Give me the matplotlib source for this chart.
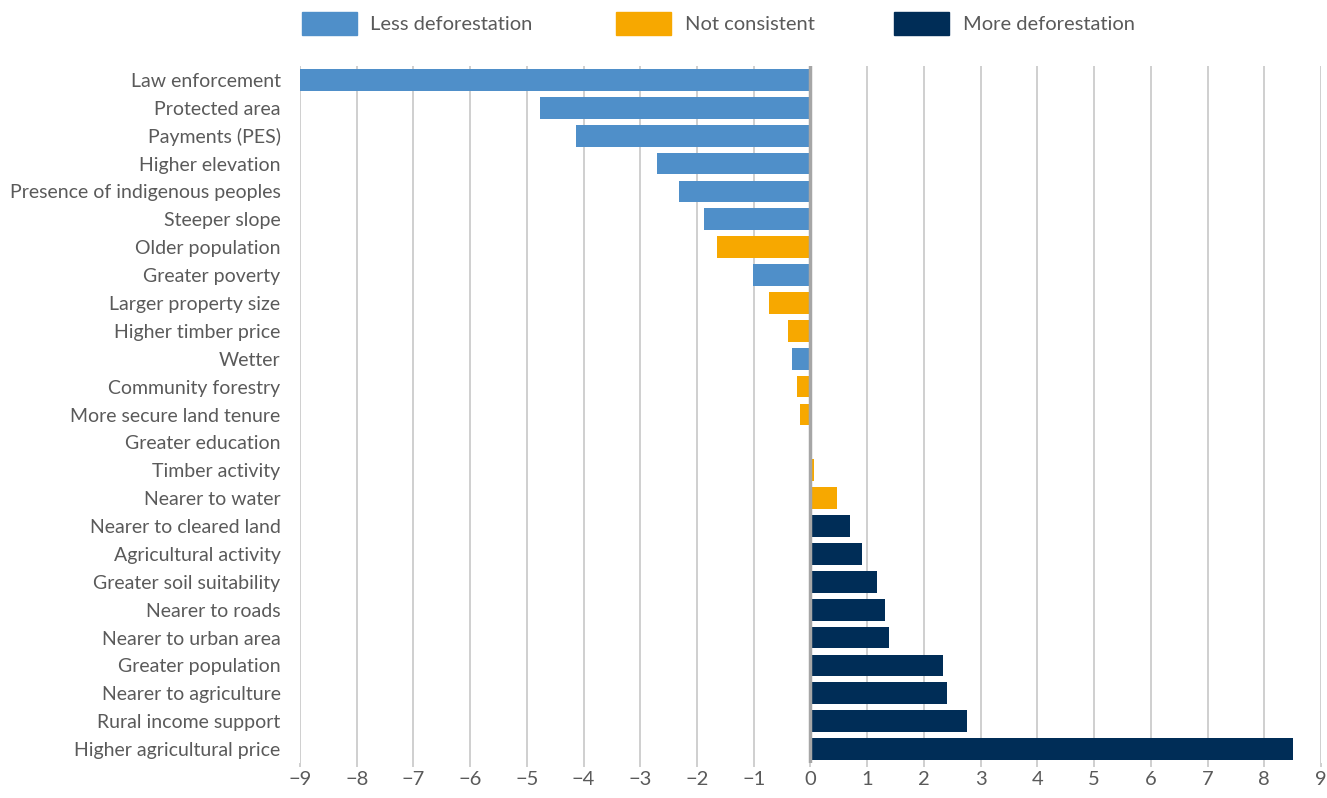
import matplotlib.pyplot as plt
from matplotlib.patches import Rectangle

factors = [
    "Law enforcement", "Protected area", "Payments (PES)", "Higher elevation",
    "Presence of indigenous peoples", "Steeper slope", "Older population",
    "Greater poverty", "Larger property size", "Higher timber price", "Wetter",
    "Community forestry", "More secure land tenure", "Greater education",
    "Timber activity", "Nearer to water", "Nearer to cleared land",
    "Agricultural activity", "Greater soil suitability", "Nearer to roads",
    "Nearer to urban area", "Greater population", "Nearer to agriculture",
    "Rural income support", "Higher agricultural price",
]
values = [
    -9.0, -4.77, -4.14, -2.71, -2.32, -1.87, -1.65, -1.02, -0.74, -0.40,
    -0.33, -0.23, -0.19, 0.0, 0.07, 0.47, 0.69, 0.90, 1.18, 1.32, 1.39,
    2.34, 2.41, 2.76, 8.50,
]
# L = less deforestation, N = not consistent, M = more deforestation
effect = list("LLLLLLNLNNLNNNNNMMMMMMMMM")

colors = {"L": "#4f8fc9", "N": "#f7a800", "M": "#002d57"}
legend_labels = {"L": "Less deforestation", "N": "Not consistent", "M": "More deforestation"}
text_color = "#5a5a5a"

plt.rcParams['font.family'] = ['Lato', 'DejaVu Sans']

W, H = 1327, 798
fig = plt.figure(figsize=(W / 100, H / 100), dpi=100)
ax = fig.add_axes([300 / W, 1 - 763 / H, 1021 / W, 697 / H])

ypos = list(range(len(factors)))
ax.barh(ypos, values, height=0.78, color=[colors[e] for e in effect], zorder=3)

ax.set_xlim(-9, 9)
ax.set_ylim(len(factors) - 0.5, -0.5)
ax.set_xticks(range(-9, 10))
ax.set_xticklabels([str(v).replace('-', '\u2212') for v in range(-9, 10)])
ax.set_yticks(ypos)
ax.set_yticklabels(factors)

for v in range(-9, 10):
    if v == 0:
        ax.axvline(v, color="#a6a6a6", lw=2.5, zorder=4)
    else:
        ax.axvline(v, color="#cccccc", lw=1.3, zorder=1)

for s in ax.spines.values():
    s.set_visible(False)
ax.tick_params(axis='y', length=0, pad=14, labelsize=14, labelcolor=text_color)
ax.tick_params(axis='x', length=3, width=1.3, color="#cccccc", pad=3,
               labelsize=14.5, labelcolor=text_color)

# legend drawn in figure pixels
for key, px, tx in [("L", 302, 370), ("N", 616, 685), ("M", 894, 963)]:
    fig.add_artist(Rectangle((px / W, 1 - 35 / H), 55 / W, 23 / H,
                             transform=fig.transFigure, color=colors[key]))
    fig.text(tx / W, 1 - 24 / H, legend_labels[key], ha='left', va='center',
             fontsize=14.5, color=text_color)

fig.savefig("out.png", dpi=100)
